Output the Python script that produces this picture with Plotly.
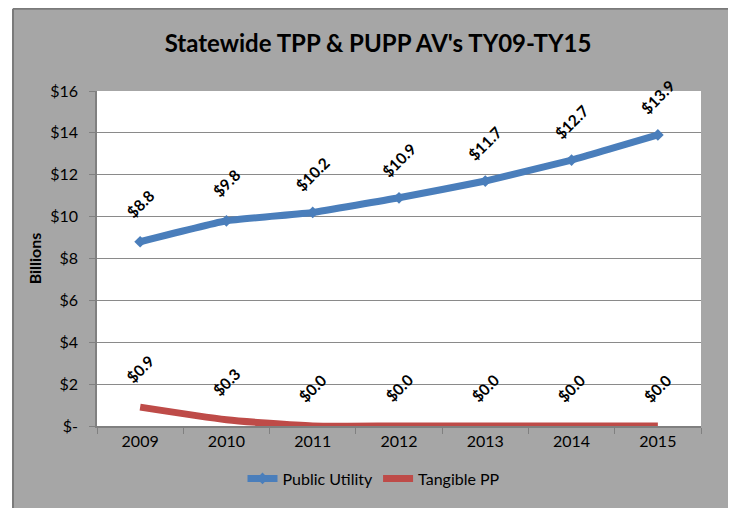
import plotly.graph_objects as go

years = ["2009", "2010", "2011", "2012", "2013", "2014", "2015"]
public_utility = [8.8, 9.8, 10.2, 10.9, 11.7, 12.7, 13.9]
tangible_pp = [0.9, 0.3, 0.0, 0.0, 0.0, 0.0, 0.0]
y_tickvals = [0, 2, 4, 6, 8, 10, 12, 14, 16]
y_ticktext = ["$-", "$2", "$4", "$6", "$8", "$10", "$12", "$14", "$16"]
title_text = "Statewide TPP & PUPP AV's TY09-TY15"

FONT = "Lato, 'Open Sans', sans-serif"
BLUE = "#4a7ebb"
RED = "#be4b48"
GRAY_BG = "#a6a6a6"
GRID = "#8a8a8a"

# page body has an 8px margin, so the figure is offset by 8px
OFF = 8
W, H = 736 - OFF, 508 - OFF
ML, MT = 97 - OFF, 91 - OFF
PW, PH = 604, 338
MR, MB = W - ML - PW, H - MT - PH

fig = go.Figure()
fig.add_trace(go.Scatter(
    x=years, y=public_utility, name="Public Utility", mode="lines+markers",
    line=dict(color=BLUE, width=7, shape="spline", smoothing=0.3),
    marker=dict(symbol="diamond", size=9, color=BLUE),
    cliponaxis=False,
))
fig.add_trace(go.Scatter(
    x=years, y=tangible_pp, name="Tangible PP", mode="lines",
    line=dict(color=RED, width=7, shape="spline", smoothing=0.6),
    cliponaxis=False,
))

annotations = []
for series in (public_utility, tangible_pp):
    for i, yv in enumerate(series):
        annotations.append(dict(
            x=i, y=yv, xref="x", yref="y", text=f"<b>${yv:.1f}</b>",
            showarrow=False, textangle=-45, yshift=38,
            font=dict(family=FONT, size=15.5, color="black"),
        ))

def px(xp):
    return (xp - ML) / PW

def py(yp):
    return (MT + PH - yp) / PH

fig.update_layout(
    width=W, height=H,
    margin=dict(l=ML, r=MR, t=MT, b=MB),
    paper_bgcolor=GRAY_BG,
    plot_bgcolor="white",
    title=dict(text=f"<b>{title_text}</b>", x=(378 - OFF - ML) / PW, xref="paper",
               y=1 - (44 - OFF) / H, yanchor="middle", xanchor="center",
               font=dict(family=FONT, size=24, color="black")),
    font=dict(family=FONT, size=16, color="black"),
    showlegend=True,
    legend=dict(orientation="h", x=px(374 - OFF), xanchor="center",
                y=py(482 - OFF), yanchor="middle",
                font=dict(family=FONT, size=16, color="black"),
                bgcolor="rgba(0,0,0,0)", itemwidth=30),
    annotations=annotations,
    shapes=[
        dict(type="rect", xref="paper", yref="paper", layer="below",
             x0=px(-5), x1=px(13 - OFF), y0=py(H + 5), y1=py(-5),
             fillcolor="white", line=dict(width=0)),
        dict(type="line", xref="paper", yref="paper", layer="below",
             x0=px(13 - OFF), x1=px(13 - OFF), y0=py(H + 5), y1=py(0),
             line=dict(color="#7a7a7a", width=2)),
        dict(type="line", xref="paper", yref="paper", layer="below",
             x0=px(13 - OFF), x1=px(W), y0=py(0), y1=py(0),
             line=dict(color="#7a7a7a", width=2)),
        dict(type="line", xref="paper", yref="paper", layer="below",
             x0=px(733 - OFF), x1=px(733 - OFF), y0=py(H + 5), y1=py(0),
             line=dict(color="#7a7a7a", width=2)),
    ],
)
fig.update_xaxes(
    type="category", range=[-0.5, 6.5],
    showline=True, linecolor="#808080", linewidth=2,
    ticks="outside", tickson="boundaries", ticklen=6, tickcolor="#808080",
    showgrid=False, tickfont=dict(family=FONT, size=16, color="black"),
)
fig.update_yaxes(
    range=[0, 16], tickvals=y_tickvals, ticktext=y_ticktext,
    showline=True, linecolor="#808080", linewidth=1.5,
    ticks="outside", ticklen=6, tickcolor="#808080",
    showgrid=True, gridcolor=GRID, gridwidth=1.3, zeroline=False,
    ticklabelstandoff=8,
    tickfont=dict(family=FONT, size=16, color="black"),
    title=dict(text="<b>Billions</b>", standoff=5,
               font=dict(family=FONT, size=16, color="black")),
)

fig.write_html("out.html")
